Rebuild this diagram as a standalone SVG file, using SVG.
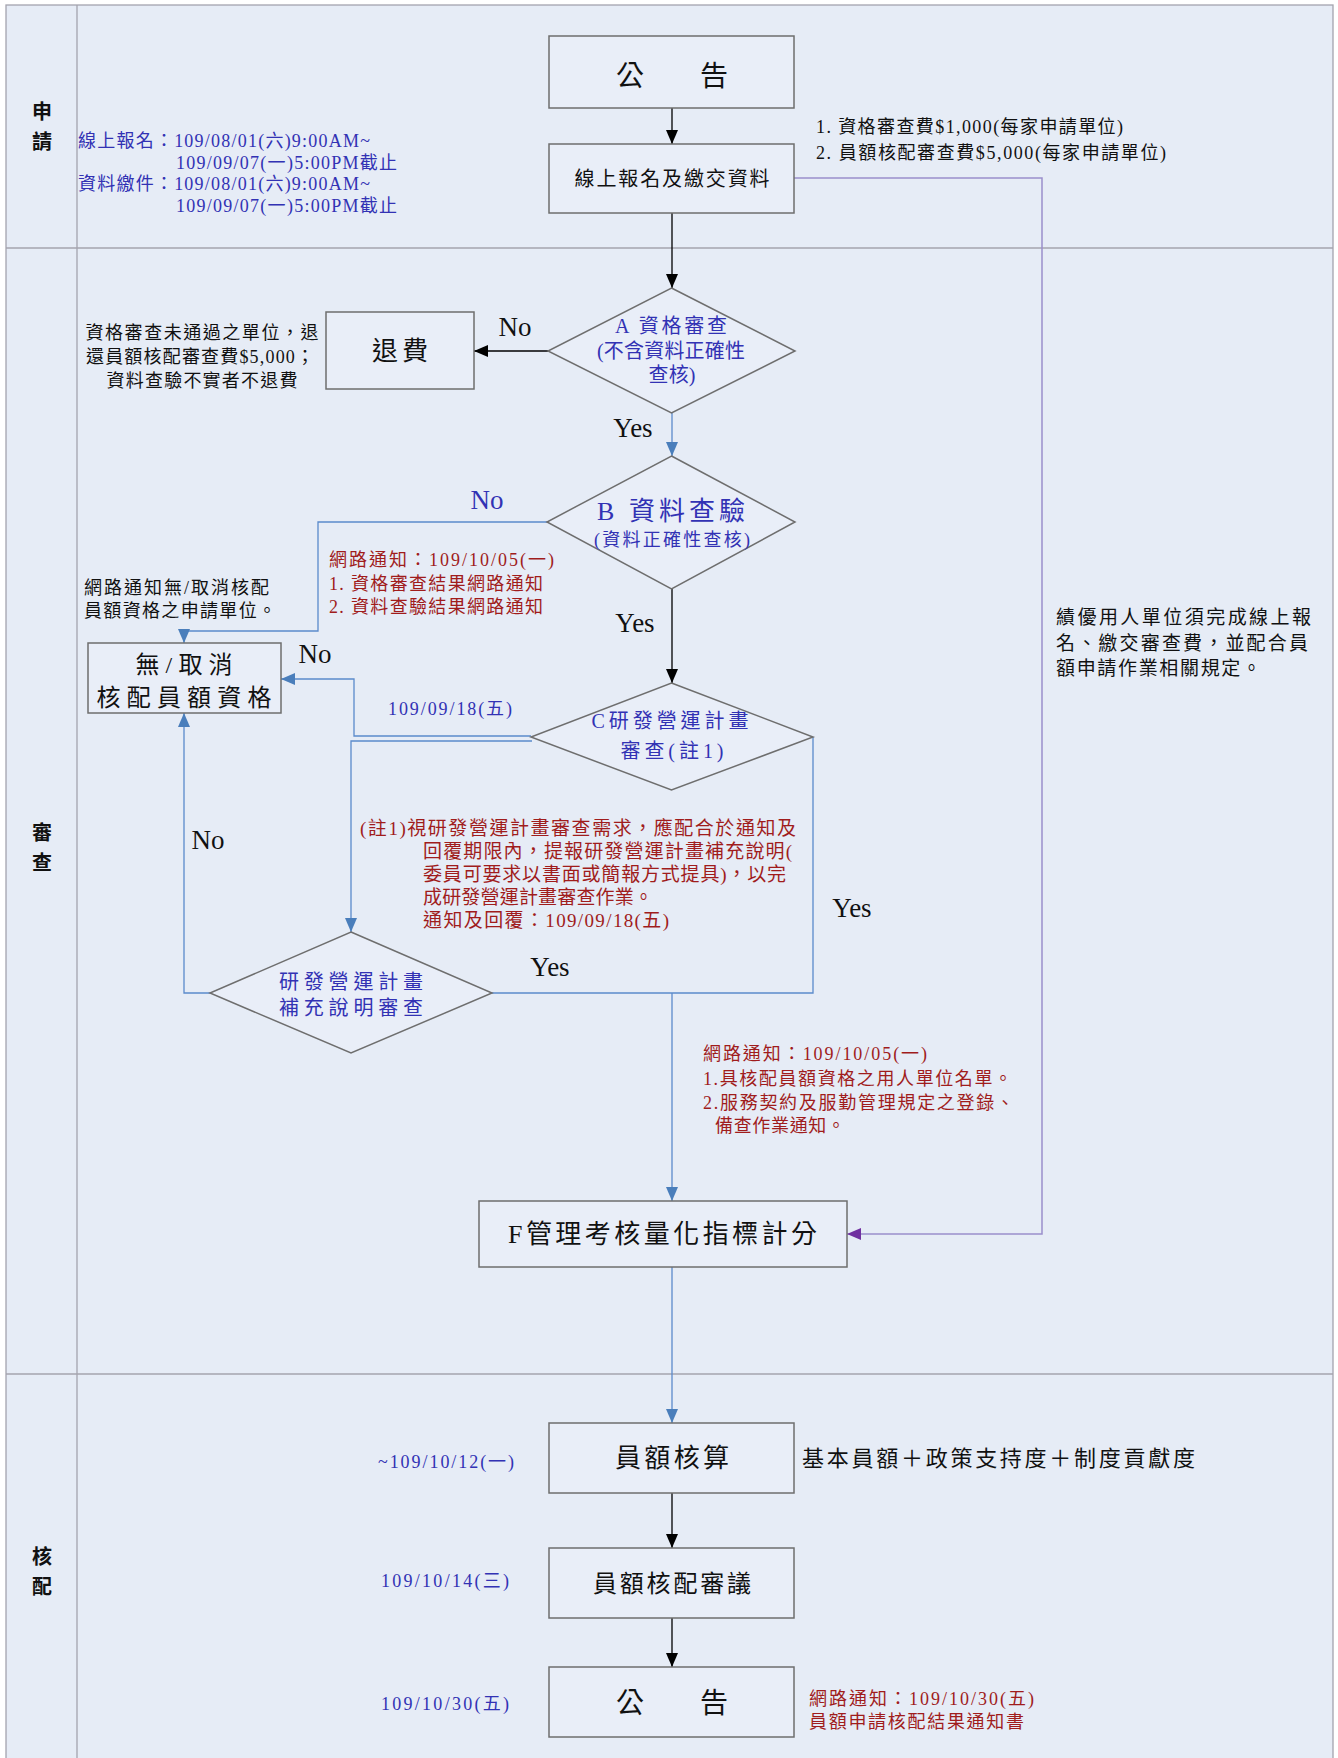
<svg xmlns="http://www.w3.org/2000/svg" width="1338" height="1758" viewBox="0 0 1338 1758">
<style>
.t{font-family:"Liberation Serif","Noto Sans CJK TC",serif;}
.s18{font-size:18px;}
.s19{font-size:19px;}
.s20{font-size:20px;}
.blue{fill:#3232b4;}
.red{fill:#a01c1c;}
.blk{fill:#111111;}
.box{fill:#e9eef8;stroke:#6e6e6e;stroke-width:1.5;}
.lane{stroke:#a4a4ae;stroke-width:1.3;fill:none;}
.cb{stroke:#000000;stroke-width:1.3;fill:none;}
.cu{stroke:#5b8acb;stroke-width:1.3;fill:none;}
.cp{stroke:#9a8fcc;stroke-width:1.5;fill:none;}
.yn{font-family:"Liberation Serif",serif;font-size:27px;}
.lbl{font-family:"Noto Sans CJK TC",sans-serif;font-size:20px;font-weight:bold;fill:#111;text-anchor:middle;}
.mid{text-anchor:middle;}
</style>
<defs>
<marker id="mb" viewBox="0 0 14 12" refX="14" refY="6" markerWidth="14" markerHeight="12" markerUnits="userSpaceOnUse" orient="auto"><path d="M0,0 L14,6 L0,12 z" fill="#000"/></marker>
<marker id="mu" viewBox="0 0 14 12" refX="14" refY="6" markerWidth="14" markerHeight="12" markerUnits="userSpaceOnUse" orient="auto"><path d="M0,0 L14,6 L0,12 z" fill="#4a7ebb"/></marker>
<marker id="mp" viewBox="0 0 14 12" refX="14" refY="6" markerWidth="14" markerHeight="12" markerUnits="userSpaceOnUse" orient="auto"><path d="M0,0 L14,6 L0,12 z" fill="#7030a0"/></marker>
</defs>
<rect x="0" y="0" width="1338" height="1758" fill="#ffffff"/>
<g id="lanes">
<rect x="6" y="5" width="1327" height="1770" fill="#e6ecf6" stroke="#a4a4ae" stroke-width="1.3"/>
<line class="lane" x1="77" y1="5" x2="77" y2="1758"/>
<line class="lane" x1="6" y1="248" x2="1333" y2="248"/>
<line class="lane" x1="6" y1="1374" x2="1333" y2="1374"/>
<text class="lbl" x="42" y="119">申</text>
<text class="lbl" x="42" y="149">請</text>
<text class="lbl" x="42" y="840">審</text>
<text class="lbl" x="42" y="870">查</text>
<text class="lbl" x="42" y="1564">核</text>
<text class="lbl" x="42" y="1594">配</text>
</g>
<g id="connectors">
<line class="cb" x1="672" y1="108" x2="672" y2="144" marker-end="url(#mb)"/>
<line class="cb" x1="672" y1="213" x2="672" y2="288" marker-end="url(#mb)"/>
<line class="cb" x1="548" y1="351" x2="474" y2="351" marker-end="url(#mb)"/>
<line class="cu" x1="672" y1="413" x2="672" y2="456" marker-end="url(#mu)"/>
<polyline class="cu" points="547,522 318,522 318,631 184,631 184,643" marker-end="url(#mu)"/>
<line class="cb" x1="672" y1="589" x2="672" y2="683" marker-end="url(#mb)"/>
<polyline class="cu" points="531,736 354,736 354,679 281,679" marker-end="url(#mu)"/>
<polyline class="cu" points="532,741 351,741 351,932" marker-end="url(#mu)"/>
<polyline class="cu" points="813,737 813,993 492,993"/>
<line class="cu" x1="672" y1="993" x2="672" y2="1201" marker-end="url(#mu)"/>
<polyline class="cu" points="210,993 184,993 184,713" marker-end="url(#mu)"/>
<polyline class="cp" points="794,178 1042,178 1042,1234 847,1234" marker-end="url(#mp)"/>
<line class="cu" x1="672" y1="1267" x2="672" y2="1423" marker-end="url(#mu)"/>
<line class="cb" x1="672" y1="1493" x2="672" y2="1548" marker-end="url(#mb)"/>
<line class="cb" x1="672" y1="1618" x2="672" y2="1667" marker-end="url(#mb)"/>
<text class="yn blk" x="515" y="336" text-anchor="middle">No</text>
<text class="yn blk" x="633" y="437" text-anchor="middle">Yes</text>
<text class="yn blue" x="487" y="509" text-anchor="middle">No</text>
<text class="yn blk" x="635" y="632" text-anchor="middle">Yes</text>
<text class="yn blk" x="315" y="663" text-anchor="middle">No</text>
<text class="yn blk" x="208" y="849" text-anchor="middle">No</text>
<text class="yn blk" x="550" y="976" text-anchor="middle">Yes</text>
<text class="yn blk" x="852" y="917" text-anchor="middle">Yes</text>
</g>
<g id="n-announce1">
<rect class="box" x="549" y="36" width="245" height="72"/>
<text class="t blk mid" x="672" y="86" font-size="28">公　　告</text>
</g>
<g id="n-register">
<rect class="box" x="549" y="144" width="245" height="69"/>
<text class="t blk mid" x="672" y="186" font-size="20" textLength="195">線上報名及繳交資料</text>
</g>
<g id="n-qual">
<polygon class="box" points="671.5,288 795,351 671.5,413 548,351"/>
<text class="t blue mid s20" x="671" y="333" textLength="112">A 資格審查</text>
<text class="t blue mid s20" x="671" y="358" textLength="148">(不含資料正確性</text>
<text class="t blue mid s20" x="672" y="382" textLength="47">查核)</text>
</g>
<g id="n-refund">
<rect class="box" x="326" y="312" width="148" height="77"/>
<text class="t blk mid" x="400" y="360" font-size="26" textLength="56">退費</text>
</g>
<g id="n-check">
<polygon class="box" points="671.5,456 795,522 671.5,589 547,522"/>
<text class="t blue mid" x="671" y="520" font-size="26" textLength="148">B 資料查驗</text>
<text class="t blue mid s18" x="672" y="545.5" textLength="156">(資料正確性查核)</text>
</g>
<g id="n-cancel">
<rect class="box" x="88" y="643" width="193" height="70"/>
<text class="t blk mid" x="184" y="672.5" font-size="24" textLength="97">無/取消</text>
<text class="t blk mid" x="184" y="705.5" font-size="24" textLength="175">核配員額資格</text>
</g>
<g id="n-plan">
<polygon class="box" points="671.5,683 813,737 671.5,790 531,737"/>
<text class="t blue mid s20" x="670" y="728" textLength="157">C研發營運計畫</text>
<text class="t blue mid s20" x="672" y="758" textLength="103">審查(註1)</text>
</g>
<g id="n-supp">
<polygon class="box" points="351,932 492,993 351,1053 210,993"/>
<text class="t blue mid s20" x="351" y="989" textLength="144">研發營運計畫</text>
<text class="t blue mid s20" x="351" y="1015" textLength="144">補充說明審查</text>
</g>
<g id="n-score">
<rect class="box" x="479" y="1201" width="368" height="66"/>
<text class="t blk" x="508" y="1243" font-size="26" textLength="309">F管理考核量化指標計分</text>
</g>
<g id="n-calc">
<rect class="box" x="549" y="1423" width="245" height="70"/>
<text class="t blk mid" x="672" y="1467" font-size="26" textLength="114">員額核算</text>
</g>
<g id="n-review">
<rect class="box" x="549" y="1548" width="245" height="70"/>
<text class="t blk mid" x="672" y="1591.5" font-size="24" textLength="158">員額核配審議</text>
</g>
<g id="n-announce2">
<rect class="box" x="549" y="1667" width="245" height="70"/>
<text class="t blk mid" x="672" y="1713" font-size="28">公　　告</text>
</g>
<g id="notes">
<text class="t blue s18" x="78" y="146.5" textLength="292">線上報名：109/08/01(六)9:00AM~</text>
<text class="t blue s18" x="176" y="168.5" textLength="221">109/09/07(一)5:00PM截止</text>
<text class="t blue s18" x="78" y="189.5" textLength="292">資料繳件：109/08/01(六)9:00AM~</text>
<text class="t blue s18" x="176" y="211.5" textLength="221">109/09/07(一)5:00PM截止</text>
<text class="t blk s18" x="816" y="132.5" textLength="307">1. 資格審查費$1,000(每家申請單位)</text>
<text class="t blk s18" x="816" y="158.5" textLength="350">2. 員額核配審查費$5,000(每家申請單位)</text>
<text class="t blk s18 mid" x="202" y="338.5" textLength="233">資格審查未通過之單位，退</text>
<text class="t blk s18 mid" x="200" y="362.5" textLength="228">還員額核配審查費$5,000；</text>
<text class="t blk s18 mid" x="202" y="386.5" textLength="191">資料查驗不實者不退費</text>
<text class="t red s18" x="329" y="565.5" textLength="225">網路通知：109/10/05(一)</text>
<text class="t red s18" x="329" y="589.5" textLength="214">1. 資格審查結果網路通知</text>
<text class="t red s18" x="329" y="612.5" textLength="214">2. 資料查驗結果網路通知</text>
<text class="t blk s18" x="84" y="593.5" textLength="185">網路通知無/取消核配</text>
<text class="t blk s18" x="84" y="616.5" textLength="192">員額資格之申請單位。</text>
<text class="t blue s18" x="388" y="714.5" textLength="124">109/09/18(五)</text>
<text class="t red s19" x="360" y="834.5" textLength="436">(註1)視研發營運計畫審查需求，應配合於通知及</text>
<text class="t red s19" x="423" y="857.5" textLength="369">回覆期限內，提報研發營運計畫補充說明(</text>
<text class="t red s19" x="423" y="880.5" textLength="363">委員可要求以書面或簡報方式提具)，以完</text>
<text class="t red s19" x="423" y="903.5" textLength="230">成研發營運計畫審查作業。</text>
<text class="t red s19" x="423" y="926.5" textLength="246">通知及回覆：109/09/18(五)</text>
<text class="t blk s19" x="1056" y="624" textLength="255">績優用人單位須完成線上報</text>
<text class="t blk s19" x="1056" y="650" textLength="252">名、繳交審查費，並配合員</text>
<text class="t blk s19" x="1056" y="675" textLength="205">額申請作業相關規定。</text>
<text class="t red s18" x="703" y="1059.5" textLength="224">網路通知：109/10/05(一)</text>
<text class="t red s18" x="703" y="1084.5" textLength="309">1.具核配員額資格之用人單位名單。</text>
<text class="t red s18" x="703" y="1108.5" textLength="311">2.服務契約及服勤管理規定之登錄、</text>
<text class="t red s18" x="715" y="1131.5" textLength="130">備查作業通知。</text>
<text class="t blue s18" x="378" y="1467.5" textLength="136">~109/10/12(一)</text>
<text class="t blk" x="802" y="1466" font-size="22" textLength="393">基本員額＋政策支持度＋制度貢獻度</text>
<text class="t blue s18" x="381" y="1586.5" textLength="128">109/10/14(三)</text>
<text class="t blue s18" x="381" y="1709.5" textLength="128">109/10/30(五)</text>
<text class="t red s18" x="809" y="1704.5" textLength="225">網路通知：109/10/30(五)</text>
<text class="t red s18" x="809" y="1727.5" textLength="215">員額申請核配結果通知書</text>
</g>
</svg>
